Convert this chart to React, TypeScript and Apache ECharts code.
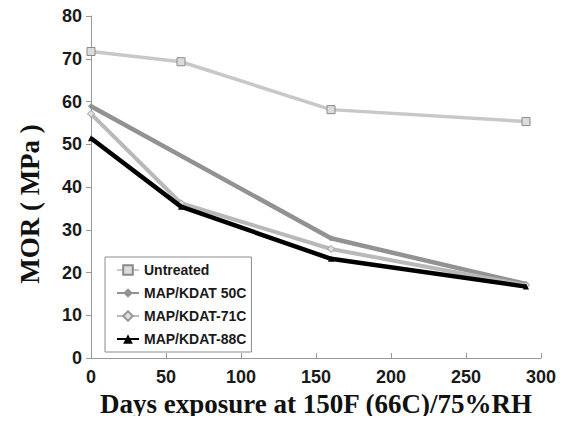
import React, { useEffect, useRef } from "react";
import * as echarts from "echarts";

const seriesNames = ["Untreated", "MAP/KDAT 50C", "MAP/KDAT-71C", "MAP/KDAT-88C"];
const untreated: [number, number][] = [[0, 71.7], [60, 69.3], [160, 58.1], [290, 55.3]];
const kdat50: [number, number][] = [[0, 58.9], [160, 28.0], [290, 17.3]];
const kdat71: [number, number][] = [[0, 57.1], [60, 36.2], [160, 25.5], [290, 17.0]];
const kdat88: [number, number][] = [[0, 51.4], [60, 35.4], [160, 23.2], [290, 16.7]];
const xTitle = "Days exposure at 150F (66C)/75%RH";
const yTitle = "MOR ( MPa )";

export default function App() {
  const ref = useRef<HTMLDivElement>(null);
  useEffect(() => {
    if (!ref.current) return;
    const chart = echarts.init(ref.current, undefined, { renderer: "svg" });
    const sans = "'Liberation Sans', Arial, sans-serif";
    const serif = "'Liberation Serif', 'Times New Roman', serif";
    chart.setOption({
      animation: false,
      backgroundColor: "#ffffff",
      grid: { left: 91, right: 26, top: 16, bottom: 66 },
      legend: {
        orient: "vertical",
        left: 105,
        top: 257,
        borderColor: "#8c8c8c",
        borderWidth: 1,
        padding: [6, 5, 6, 11],
        itemWidth: 22,
        itemHeight: 12,
        itemGap: 9,
        data: seriesNames,
        textStyle: { fontFamily: sans, fontWeight: "bold", fontSize: 14, color: "#1a1a1a" },
      },
      graphic: [
        {
          type: "text",
          x: 30,
          y: 204,
          rotation: Math.PI / 2,
          style: {
            text: yTitle,
            fontFamily: serif,
            fontWeight: "bold",
            fontSize: 27,
            fill: "#111",
            textAlign: "center",
            textVerticalAlign: "middle",
          },
        },
      ],
      xAxis: {
        type: "value",
        min: 0,
        max: 300,
        interval: 50,
        name: xTitle,
        nameLocation: "middle",
        nameGap: 30,
        nameTextStyle: { fontFamily: serif, fontWeight: "bold", fontSize: 27, color: "#111" },
        axisLine: { lineStyle: { color: "#999", width: 1 } },
        axisTick: { inside: true, length: 5, lineStyle: { color: "#999" } },
        axisLabel: { fontFamily: sans, fontWeight: "bold", fontSize: 18, color: "#1a1a1a", margin: 10 },
        splitLine: { show: false },
      },
      yAxis: {
        type: "value",
        min: 0,
        max: 80,
        interval: 10,
        axisLine: { show: true, lineStyle: { color: "#999", width: 1 } },
        axisTick: { show: true, length: 5, lineStyle: { color: "#999" } },
        axisLabel: { fontFamily: sans, fontWeight: "bold", fontSize: 18, color: "#1a1a1a", margin: 9 },
        splitLine: { show: false },
      },
      series: [
        {
          name: seriesNames[0],
          type: "line",
          data: untreated,
          symbol: "rect",
          symbolSize: 8,
          lineStyle: { color: "#c8c8c8", width: 3.5 },
          itemStyle: { color: "#dcdcdc", borderColor: "#8a8a8a", borderWidth: 1 },
          z: 2,
        },
        {
          name: seriesNames[1],
          type: "line",
          data: kdat50,
          symbol: "diamond",
          symbolSize: 6,
          lineStyle: { color: "#929292", width: 4.5 },
          itemStyle: { color: "#929292" },
          z: 3,
        },
        {
          name: seriesNames[2],
          type: "line",
          data: kdat71,
          symbol: "diamond",
          symbolSize: 7,
          lineStyle: { color: "#b9b9b9", width: 4 },
          itemStyle: { color: "#e0e0e0", borderColor: "#999", borderWidth: 1 },
          z: 4,
        },
        {
          name: seriesNames[3],
          type: "line",
          data: kdat88,
          symbol: "triangle",
          symbolSize: 6,
          lineStyle: { color: "#000000", width: 4.5 },
          itemStyle: { color: "#000000" },
          z: 5,
        },
      ],
    });
    return () => chart.dispose();
  }, []);
  return <div ref={ref} style={{ width: 567, height: 424, margin: -8 }} />;
}
